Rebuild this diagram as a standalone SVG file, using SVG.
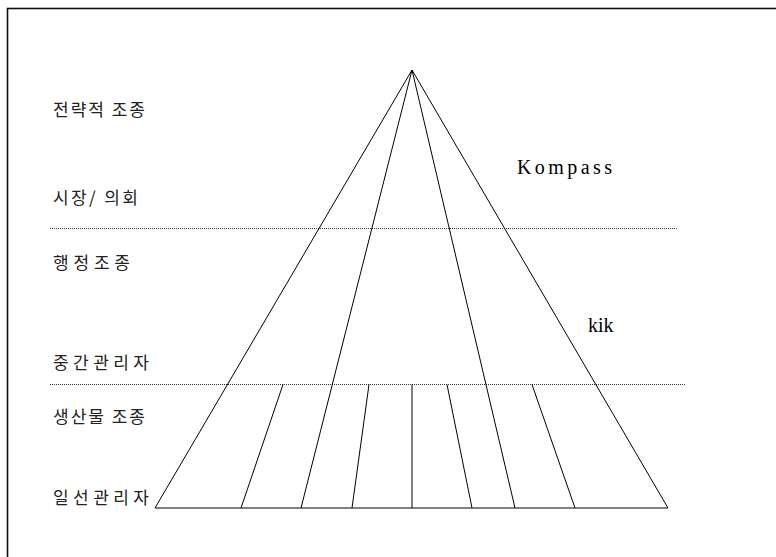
<svg xmlns="http://www.w3.org/2000/svg" width="776" height="557" viewBox="0 0 776 557">
<style>
.ln{stroke:#000;stroke-width:1;fill:none}
.dot{stroke:#333;stroke-width:1;stroke-dasharray:1 1;fill:none}
.kr{font-family:"Noto Sans CJK KR","Noto Sans",sans-serif;font-size:17px;fill:#222}
.lat{font-family:"Liberation Serif",serif;font-size:20px;fill:#000}
</style>
<rect x="0" y="0" width="776" height="557" fill="#fff"/>
<rect id="frame" x="7.5" y="8.5" width="800" height="600" fill="none" stroke="#111" stroke-width="1.6"/>
<g id="levels">
<line class="dot" x1="50" y1="228.5" x2="678" y2="228.5"/>
<line class="dot" x1="50" y1="384.5" x2="686" y2="384.5"/>
</g>
<g id="pyramid">
<polygon class="ln" points="412,70 155,508 668,508"/>
<line class="ln" x1="412" y1="70" x2="301" y2="508"/>
<line class="ln" x1="412" y1="70" x2="515" y2="508"/>
<line class="ln" x1="283" y1="384.5" x2="241" y2="508"/>
<line class="ln" x1="369" y1="384.5" x2="352" y2="508"/>
<line class="ln" x1="412" y1="384.5" x2="412" y2="508"/>
<line class="ln" x1="447" y1="384.5" x2="472" y2="508"/>
<line class="ln" x1="532" y1="384.5" x2="575" y2="508"/>
</g>
<g id="labels">
<text class="kr" x="53" y="116" textLength="92" lengthAdjust="spacing">전략적 조종</text>
<text class="kr" x="53" y="204" textLength="85" lengthAdjust="spacing">시장/ 의회</text>
<text class="kr" x="53" y="269" textLength="77" lengthAdjust="spacing">행정조종</text>
<text class="kr" x="53" y="369" textLength="96" lengthAdjust="spacing">중간관리자</text>
<text class="kr" x="53" y="423" textLength="92" lengthAdjust="spacing">생산물 조종</text>
<text class="kr" x="53" y="504" textLength="96" lengthAdjust="spacing">일선관리자</text>
<text class="lat" x="517" y="174" textLength="95" lengthAdjust="spacing">Kompass</text>
<text class="lat" x="588" y="332">kik</text>
</g>
</svg>
